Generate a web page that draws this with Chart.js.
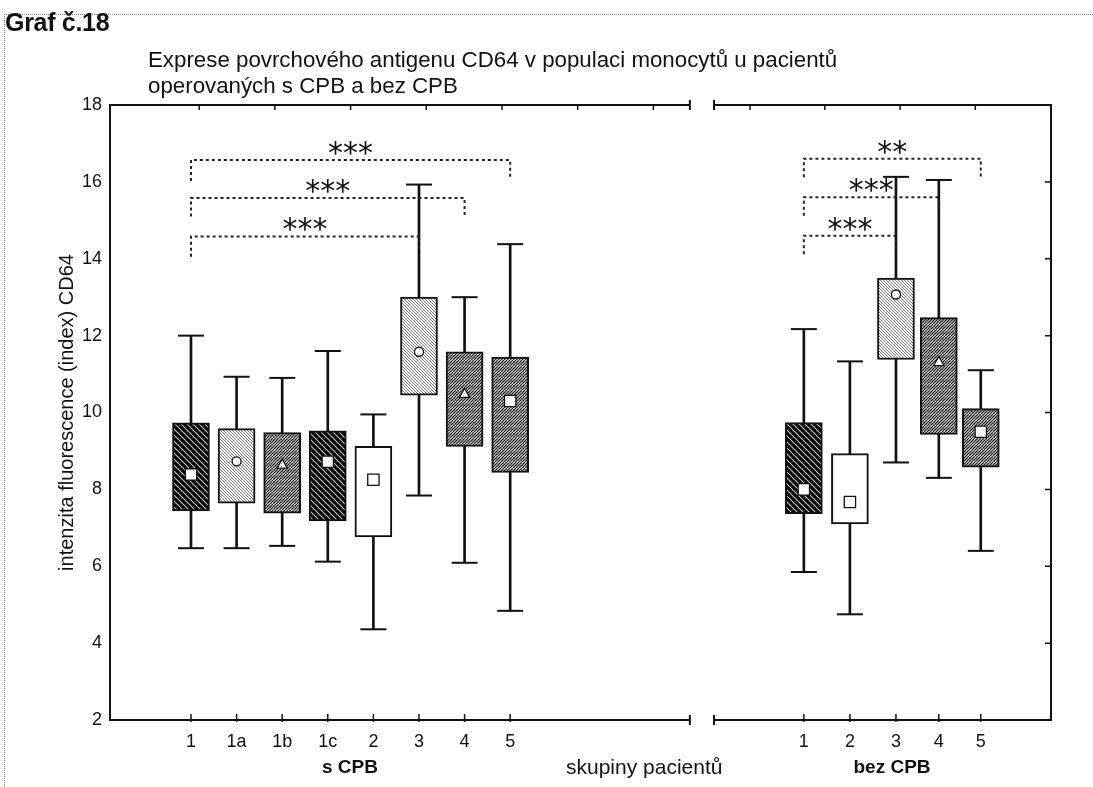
<!DOCTYPE html>
<html>
<head>
<meta charset="utf-8">
<script src="https://cdn.jsdelivr.net/npm/chart.js@4.4.1/dist/chart.umd.min.js"></script>
<style>
  html, body { margin: 0; padding: 0; background: #fff; }
  #wrap { position: relative; width: 1093px; height: 787px; overflow: hidden;
          font-family: "Liberation Sans", Arial, sans-serif; color: #111; }
  #frame { position: absolute; left: 4px; top: 14px; width: 1200px; height: 900px;
           border-top: 1px dotted #888; border-left: 1px dotted #888; }
  #c { position: absolute; left: 0; top: 0; }
  .txt { position: absolute; white-space: nowrap; }
  .b { font-weight: bold; }
</style>
</head>
<body>
<div id="wrap">
  <div id="frame"></div>
  <canvas id="c" width="1093" height="787"></canvas>
  <div class="txt b" style="left:5px; top:8px; font-size:25px; letter-spacing:-0.3px;">Graf č.18</div>
  <div class="txt" style="left:148px; top:47px; font-size:22.3px; line-height:26px;">Exprese povrchového antigenu CD64 v populaci monocytů u pacientů<br>operovaných s CPB a bez CPB</div>
  <div class="txt b" style="left:350px; top:756px; font-size:19px; transform:translateX(-50%);">s CPB</div>
  <div class="txt" style="left:566px; top:755px; font-size:21px;">skupiny pacientů</div>
  <div class="txt b" style="left:892px; top:756px; font-size:19px; transform:translateX(-50%);">bez CPB</div>
</div>
<script>
// skupiny pacientu
const groupsL = ['1', '1a', '1b', '1c', '2', '3', '4', '5'];   // s CPB
const groupsR = ['1', '2', '3', '4', '5'];                     // bez CPB

// s CPB - whisker min, box bottom, marker, box top, whisker max
const minL = [6.47, 6.47, 6.53, 6.12, 4.36, 7.84, 6.09, 4.84];
const q1L  = [7.44, 7.64, 7.38, 7.18, 6.76, 10.45, 9.12, 8.44];
const midL = [8.39, 8.73, 8.63, 8.72, 8.25, 11.58, 10.47, 10.30];
const q3L  = [9.73, 9.58, 9.48, 9.52, 9.12, 13.0, 11.58, 11.44];
const maxL = [12.0, 10.93, 10.9, 11.6, 9.95, 15.93, 13.0, 14.38];

// bez CPB
const minR = [5.85, 4.75, 8.70, 8.30, 6.40];
const q1R  = [7.37, 7.10, 11.38, 9.43, 8.58];
const midR = [8.00, 7.67, 13.07, 11.30, 9.50];
const q3R  = [9.74, 8.93, 13.50, 12.47, 10.10];
const maxR = [12.17, 11.33, 16.13, 16.05, 11.10];

// y osa
const yMin = 2, yMax = 18, yStep = 2;

// vyznamnost: skupina od, skupina do, vyska, konec vlevo, konec vpravo, text
const sigL = [
  [0, 7, 16.57, 16.02, 16.10, '***'],
  [0, 6, 15.58, 15.10, 15.08, '***'],
  [0, 5, 14.58, 14.05, 14.18, '***']
];
const sigR = [
  [0, 4, 16.60, 16.12, 16.12, '**'],
  [0, 3, 15.60, 15.12, 15.20, '***'],
  [0, 2, 14.60, 14.12, 14.18, '***']
];

// rozlozeni (x v jednotkach osy)
const posL = [1, 2, 3, 4, 5, 6, 7, 8];
const posR = [14.44, 15.45, 16.46, 17.40, 18.32];
const xMin = -0.776, xMax = 19.86;
const breakL = 11.94, breakR = 12.47;
const topTicksL = [1.18, 2.84, 4.5, 6.16, 7.82, 9.48, 11.14];
const topTicksR = [13.26, 14.9, 16.55, 18.2];

const fillL = ['dark', 'light', 'fwd', 'dark', 'white', 'light', 'fwd', 'fwd'];
const fillR = ['dark', 'white', 'light', 'fwd', 'fwd'];
const markL = ['rect', 'circle', 'triangle', 'rect', 'rect', 'circle', 'triangle', 'rect'];
const markR = ['rect', 'rect', 'circle', 'triangle', 'rect'];

function makePattern(kind) {
  if (kind === 'white') return '#ffffff';
  const t = document.createElement('canvas');
  t.width = 6; t.height = 6;
  const c = t.getContext('2d');
  c.fillStyle = '#fff';
  c.fillRect(0, 0, 6, 6);
  if (kind === 'dark') {
    c.fillStyle = '#444';
    c.fillRect(0, 0, 6, 6);
    c.strokeStyle = '#000';
    c.lineWidth = 2.4;
    for (let k = -6; k <= 6; k += 6) { c.beginPath(); c.moveTo(k, 0); c.lineTo(k + 6, 6); c.stroke(); }
    c.strokeStyle = '#ddd';
    c.lineWidth = 0.8;
    for (let k = -3; k <= 9; k += 6) { c.beginPath(); c.moveTo(k, 0); c.lineTo(k + 6, 6); c.stroke(); }
  } else if (kind === 'light') {
    c.strokeStyle = '#777';
    c.lineWidth = 1;
    for (let k = -6; k <= 6; k += 3) { c.beginPath(); c.moveTo(k, 0); c.lineTo(k + 6, 6); c.stroke(); }
  } else {
    c.strokeStyle = '#222';
    c.lineWidth = 1.3;
    for (let k = -6; k <= 12; k += 3) { c.beginPath(); c.moveTo(k, 6); c.lineTo(k + 6, 0); c.stroke(); }
  }
  return document.createElement('canvas').getContext('2d').createPattern(t, 'repeat');
}

const pos = posL.concat(posR);
const labels = groupsL.concat(groupsR);
const mins = minL.concat(minR), q1s = q1L.concat(q1R), mids = midL.concat(midR);
const q3s = q3L.concat(q3R), maxs = maxL.concat(maxR);
const fills = fillL.concat(fillR).map(makePattern);
const marks = markL.concat(markR);

const stems = pos.map((x, i) => ({ x: x, y: [mins[i], maxs[i]] }));
const boxes = pos.map((x, i) => ({ x: x, y: [q1s[i], q3s[i]] }));
const caps = pos.map((x, i) => ({ x: x, y: mins[i] })).concat(pos.map((x, i) => ({ x: x, y: maxs[i] })));
const points = pos.map((x, i) => ({ x: x, y: mids[i] }));

const sigAll = sigL.map(s => ({ s: s, p: posL })).concat(sigR.map(s => ({ s: s, p: posR })));
const bracketSets = sigAll.map(o => {
  const s = o.s, x1 = o.p[s[0]], x2 = o.p[s[1]];
  return {
    type: 'line',
    data: [{ x: x1, y: s[3] }, { x: x1, y: s[2] }, { x: x2, y: s[2] }, { x: x2, y: s[4] }],
    borderColor: '#222', borderWidth: 2, borderDash: [3, 3],
    pointRadius: 0, fill: false, tension: 0, order: 0
  };
});

const ink = '#111';

const framePlugin = {
  id: 'frame',
  afterDraw(chart) {
    const ctx = chart.ctx, a = chart.chartArea;
    const xs = chart.scales.x, ys = chart.scales.y;
    const bl = xs.getPixelForValue(breakL), br = xs.getPixelForValue(breakR);
    ctx.save();
    ctx.strokeStyle = ink;
    ctx.lineWidth = 2;
    ctx.beginPath();
    [a.bottom, a.top].forEach(yy => {
      ctx.moveTo(a.left, yy); ctx.lineTo(bl, yy);
      ctx.moveTo(br, yy); ctx.lineTo(a.right, yy);
      ctx.moveTo(bl, yy - 5); ctx.lineTo(bl, yy + 5);
      ctx.moveTo(br, yy - 5); ctx.lineTo(br, yy + 5);
    });
    ctx.stroke();
    ctx.lineWidth = 1.5;
    ctx.beginPath();
    pos.forEach(v => {
      const px = xs.getPixelForValue(v);
      ctx.moveTo(px, a.bottom + 2); ctx.lineTo(px, a.bottom - 6);
    });
    topTicksL.concat(topTicksR).forEach(v => {
      const px = xs.getPixelForValue(v);
      ctx.moveTo(px, a.top); ctx.lineTo(px, a.top + 5);
    });
    ys.ticks.forEach(t => {
      const py = ys.getPixelForValue(t.value);
      ctx.moveTo(a.right, py); ctx.lineTo(a.right - 6, py);
    });
    ctx.stroke();
    // hvezdicky
    ctx.fillStyle = ink;
    ctx.font = '30px "DejaVu Sans"';
    ctx.textAlign = 'center';
    ctx.textBaseline = 'alphabetic';
    const m = ctx.measureText('*');
    const half = (m.actualBoundingBoxAscent - m.actualBoundingBoxDescent) / 2;
    sigAll.forEach(o => {
      const s = o.s;
      const cx = (xs.getPixelForValue(o.p[s[0]]) + xs.getPixelForValue(o.p[s[1]])) / 2;
      const cy = ys.getPixelForValue(s[2]) - 12;
      const n = s[5].length, gap = 15;
      for (let k = 0; k < n; k++) {
        ctx.fillText('*', cx + (k - (n - 1) / 2) * gap, cy + half);
      }
    });
    ctx.restore();
  }
};

new Chart(document.getElementById('c'), {
  type: 'bar',
  data: {
    datasets: [
      {
        type: 'scatter', data: points, order: 1,
        pointStyle: marks,
        pointRadius: marks.map(m => m === 'rect' ? 8 : (m === 'circle' ? 4.5 : 6)),
        backgroundColor: '#fff', borderColor: ink, borderWidth: 1.3
      },
      {
        type: 'scatter', data: caps, order: 2,
        pointStyle: 'line', pointRadius: 13, borderColor: ink, borderWidth: 2
      },
      {
        data: boxes, order: 3, grouped: false, barThickness: 37,
        backgroundColor: fills, borderColor: ink, borderWidth: 2, borderSkipped: false
      },
      {
        data: stems, order: 4, grouped: false, barThickness: 2,
        backgroundColor: ink, borderWidth: 0
      }
    ].concat(bracketSets)
  },
  plugins: [framePlugin],
  options: {
    responsive: false,
    animation: false,
    layout: { padding: { top: 105, left: 0, right: 0, bottom: 0 } },
    plugins: { legend: { display: false }, tooltip: { enabled: false } },
    scales: {
      x: {
        type: 'linear', min: xMin, max: xMax, offset: false,
        grid: { display: false }, border: { display: false },
        afterBuildTicks: s => { s.ticks = pos.map(v => ({ value: v })); },
        afterFit: s => { s.height = 67; },
        ticks: {
          autoSkip: false, maxRotation: 0, padding: 3, color: ink,
          font: { family: '"Liberation Sans", Arial, sans-serif', size: 18 },
          callback: (v, i) => labels[i]
        }
      },
      y: {
        position: 'left', min: yMin, max: yMax,
        grid: { display: false },
        border: { display: true, color: ink, width: 2 },
        afterFit: s => { s.width = 110; },
        ticks: {
          stepSize: yStep, padding: 0, color: ink,
          font: { family: '"Liberation Sans", Arial, sans-serif', size: 18 }
        },
        title: {
          display: true, text: 'intenzita fluorescence (index) CD64', color: ink,
          padding: { top: 55, bottom: 0 },
          font: { family: '"Liberation Sans", Arial, sans-serif', size: 20 }
        }
      },
      y2: {
        position: 'right', min: yMin, max: yMax,
        grid: { display: false },
        border: { display: true, color: ink, width: 2 },
        ticks: { display: false },
        afterFit: s => { s.width = 42; }
      }
    }
  }
});
</script>
</body>
</html>
